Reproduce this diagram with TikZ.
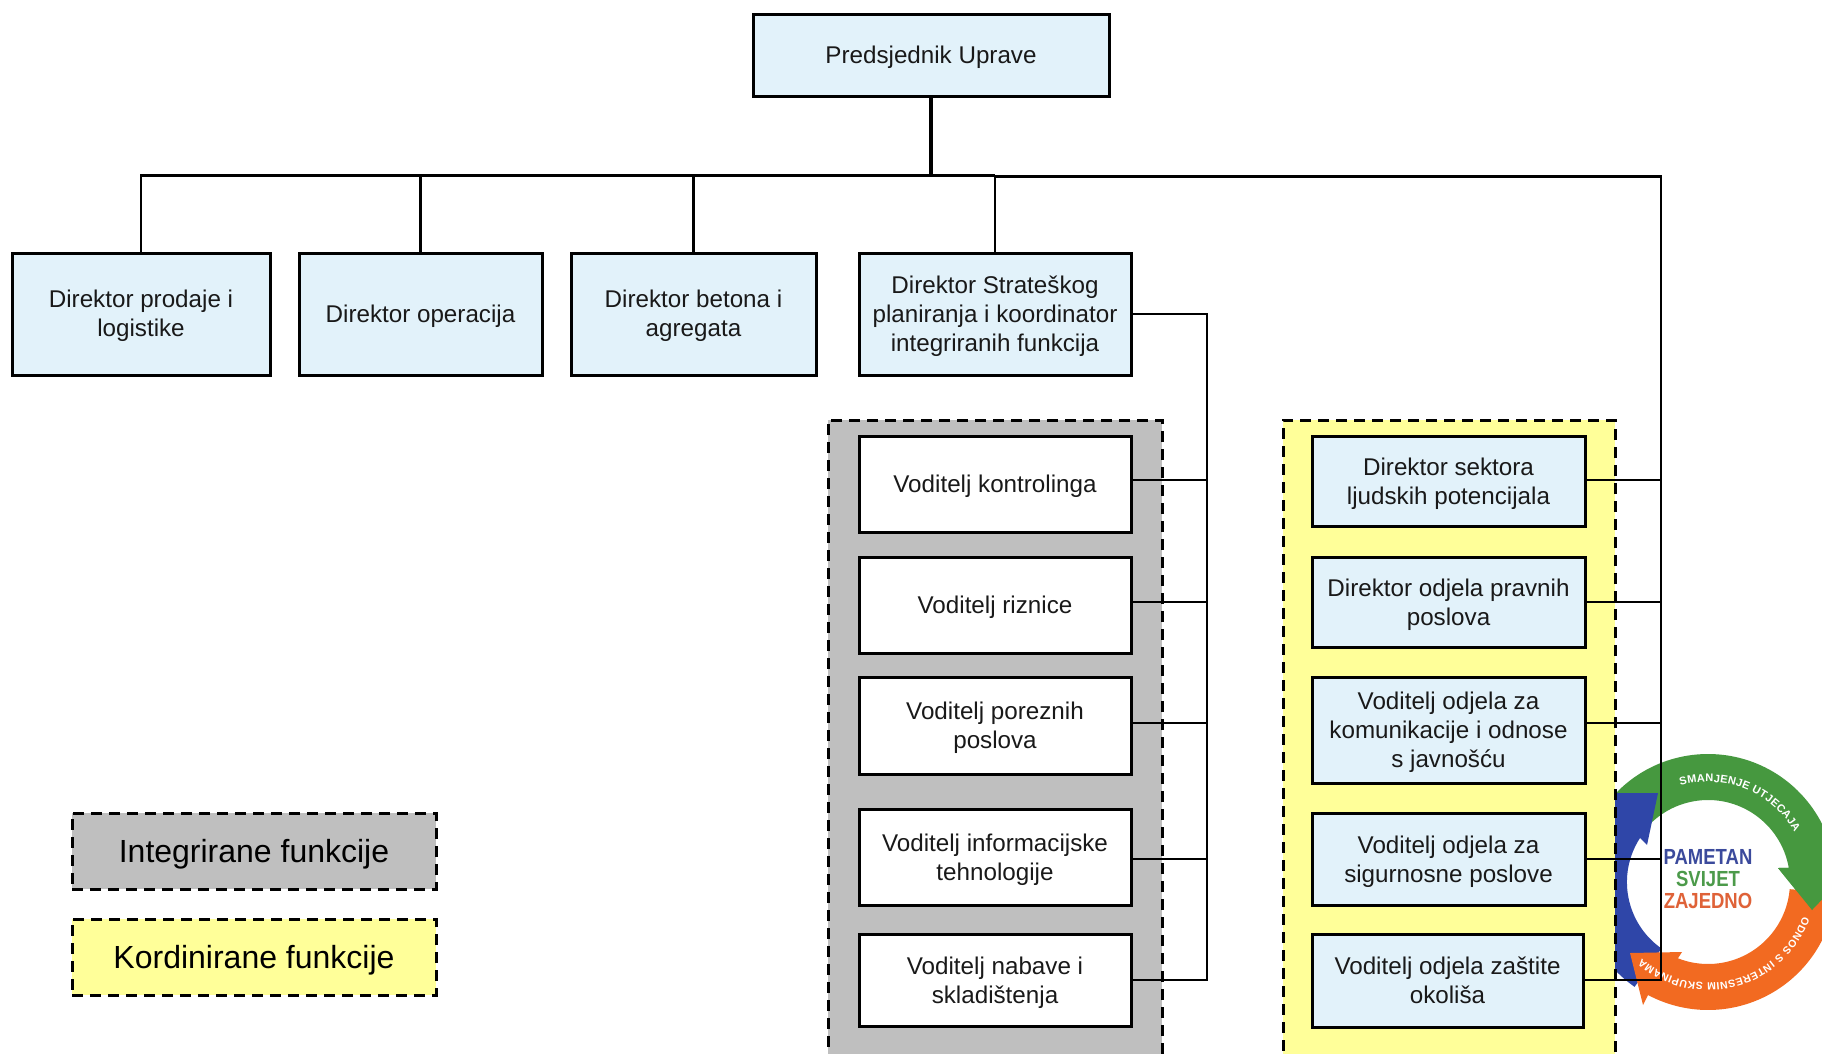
\documentclass[tikz,border=0pt]{standalone}
\usepackage{fontspec}
\setmainfont{Liberation Sans}
\newfontfamily\logofont{Liberation Sans}[BoldFont={Liberation Sans Bold}]
\usetikzlibrary{decorations.text}
\definecolor{boxblue}{HTML}{E2F2FA}
\definecolor{panelgray}{HTML}{BFBFBF}
\definecolor{panelyellow}{HTML}{FFFF99}
\definecolor{ringgreen}{HTML}{46983F}
\definecolor{ringorange}{HTML}{F26A21}
\definecolor{ringblue}{HTML}{2F46A8}
\definecolor{txtblue}{HTML}{3B4A9C}
\definecolor{txtgreen}{HTML}{4C9A4A}
\definecolor{txtorange}{HTML}{DF6238}
\newcommand{\bx}[1]{\rule{0pt}{22pt}#1\rule[-5pt]{0pt}{5pt}}
\newcommand{\lgd}[1]{\rule{0pt}{29pt}#1\rule[-6.6pt]{0pt}{6.6pt}}
\newcommand{\tallt}[1]{\scalebox{1}[1.18]{#1}}
\tikzset{
  basebox/.style={draw=black,line width=3pt,inner sep=2pt,align=center,text=black!90,
    font=\fontsize{24.2}{29}\selectfont},
  bluebox/.style={basebox,fill=boxblue},
  whitebox/.style={basebox,fill=white},
  panel/.style={draw=black,line width=3pt,dash pattern=on 11pt off 7pt,inner sep=0pt,
    minimum width=#1},
  legendbox/.style={panel=364pt,minimum height=76pt,align=center,
    font=\fontsize{32}{38}\selectfont},
  conn/.style={draw=black,line width=2.2pt},
  heavyconn/.style={draw=black,line width=3.4pt},
  arcwhite/.style={decorate,decoration={text along path,text align={fit to path},raise=0pt,text={#1}}},
  logotext/.style={font=\logofont\bfseries\fontsize{18.5}{22}\selectfont,inner sep=0pt,anchor=base}
}
\begin{document}
\begin{tikzpicture}[x=1pt,y=-1pt]
\useasboundingbox (0,0) rectangle (1822,1053);
\clip (0,0) rectangle (1822,1053);
\fill[white] (0,0) rectangle (1822,1053);

% logo
\begin{scope}[shift={(1708,882)},x=1pt,y=1pt]
  \fill[ringgreen] (136:128pt) arc[start angle=136,end angle=10,radius=128pt]
    -- (150,20) -- (104,-28) -- (70,14) -- (10:82pt)
    arc[start angle=10,end angle=136,radius=82pt] -- cycle;
  \fill[ringblue] (-125:128pt) arc[start angle=235,end angle=150,radius=128pt]
    -- (-130,89) -- (-50,89) -- (-61,37) -- (-68,44)
    arc[start angle=147,end angle=235,radius=81pt] -- cycle;
  \fill[ringorange] (-5:82pt) arc[start angle=-5,end angle=-111.5,radius=82pt]
    -- (-26,-70) -- (-78,-71) -- (-65,-123) -- (-60,-113)
    arc[start angle=-118,end angle=-5,radius=128pt] -- cycle;
  \fill[ringgreen] (12:128pt) arc[start angle=12,end angle=10,radius=128pt]
    -- (150,20) -- (104,-28) -- (70,14) -- (10:82pt) -- cycle;
  \path[arcwhite={|\color{white}\logofont\bfseries\fontsize{11}{13}\selectfont|SMANJENJE UTJECAJA}]
    (106:100pt) arc[start angle=106,end angle=30,radius=100pt];
  \path[arcwhite={|\color{white}\logofont\bfseries\fontsize{10.5}{13}\selectfont|ODNOS S INTERESNIM SKUPINAMA}]
    (-20:101pt) arc[start angle=-20,end angle=-131,radius=101pt];
\end{scope}
\node[logotext,text=txtblue] (lg1) at (1708,864) {\tallt{PAMETAN}};
\node[logotext,text=txtgreen] (lg2) at (1708,886) {\tallt{SVIJET}};
\node[logotext,text=txtorange] (lg3) at (1708,908) {\tallt{ZAJEDNO}};

% panels
\node[panel=334pt,fill=panelgray,minimum height=660pt] (pg) at (995,750) {};
\node[panel=332pt,fill=panelyellow,minimum height=660pt] (py) at (1449,750) {};

% top level
\node[bluebox,minimum width=356pt,minimum height=82pt] (top) at (931,55) {\bx{Predsjednik Uprave}};
\node[bluebox,minimum width=258pt,minimum height=122pt] (d1) at (141,314) {\bx{Direktor prodaje i\\logistike}};
\node[bluebox,minimum width=243pt,minimum height=122pt] (d2) at (420.5,314) {\bx{Direktor operacija}};
\node[bluebox,minimum width=245pt,minimum height=122pt] (d3) at (693.5,314) {\bx{Direktor betona i\\agregata}};
\node[bluebox,minimum width=272pt,minimum height=122pt] (d4) at (995,314) {\bx{Direktor Strateškog\\planiranja i koordinator\\integriranih funkcija}};

% grey column
\node[whitebox,minimum width=272pt,minimum height=96pt] (g1) at (995,484) {\bx{Voditelj kontrolinga}};
\node[whitebox,minimum width=272pt,minimum height=96pt] (g2) at (995,605) {\bx{Voditelj riznice}};
\node[whitebox,minimum width=272pt,minimum height=97pt] (g3) at (995,725.5) {\bx{Voditelj poreznih\\poslova}};
\node[whitebox,minimum width=272pt,minimum height=96pt] (g4) at (995,857) {\bx{Voditelj informacijske\\tehnologije}};
\node[whitebox,minimum width=272pt,minimum height=92pt] (g5) at (995,980) {\bx{Voditelj nabave i\\skladištenja}};

% yellow column
\node[bluebox,minimum width=273pt,minimum height=90pt] (y1) at (1448.5,481) {\bx{Direktor sektora\\ljudskih potencijala}};
\node[bluebox,minimum width=273pt,minimum height=90pt] (y2) at (1448.5,602) {\bx{Direktor odjela pravnih\\poslova}};
\node[bluebox,minimum width=273pt,minimum height=106pt] (y3) at (1448.5,730) {\bx{Voditelj odjela za\\komunikacije i odnose\\s javnošću}};
\node[bluebox,minimum width=273pt,minimum height=92pt] (y4) at (1448.5,859) {\bx{Voditelj odjela za\\sigurnosne poslove}};
\node[bluebox,minimum width=271pt,minimum height=93pt] (y5) at (1447.5,980.5) {\bx{Voditelj odjela zaštite\\okoliša}};

% legend
\node[legendbox,fill=panelgray] (l1) at (254,851) {\lgd{Integrirane funkcije}};
\node[legendbox,fill=panelyellow] (l2) at (254,957) {\lgd{Kordinirane funkcije}};

% connectors
\coordinate (busC) at (931,175.5);
\coordinate (busL) at (995,175.5);
\coordinate (busR) at (1661,176.5);
\coordinate (busM) at (995,176.5);
\coordinate (tA) at (1207,314);
\coordinate (t1) at (1207,480);
\coordinate (t2) at (1207,602);
\coordinate (t3) at (1207,723);
\coordinate (t4) at (1207,859);
\coordinate (t5) at (1207,980);
\coordinate (r1) at (1661,480);
\coordinate (r2) at (1661,602);
\coordinate (r3) at (1661,723);
\coordinate (r4) at (1661,859);
\coordinate (r5) at (1661,980);
\draw[conn] (d1.north) |- (busC);
\draw[conn] (d2.north) -- (d2.north |- busC);
\draw[conn] (d3.north) -- (d3.north |- busC);
\draw[conn] (d4.north) -- (busL);
\draw[heavyconn] (top.south) -- (busC) -- (busL);
\draw[conn] (busM) -- (busR) -- (r5) -- (y5.east |- r5);
\draw[conn] (d4.east) -- (tA) -- (t5) -- (g5.east |- t5);
\draw[conn] (t1) -- (g1.east |- t1);
\draw[conn] (t2) -- (g2.east |- t2);
\draw[conn] (t3) -- (g3.east |- t3);
\draw[conn] (t4) -- (g4.east |- t4);
\draw[conn] (r1) -- (y1.east |- r1);
\draw[conn] (r2) -- (y2.east |- r2);
\draw[conn] (r3) -- (y3.east |- r3);
\draw[conn] (r4) -- (y4.east |- r4);
\end{tikzpicture}
\end{document}
